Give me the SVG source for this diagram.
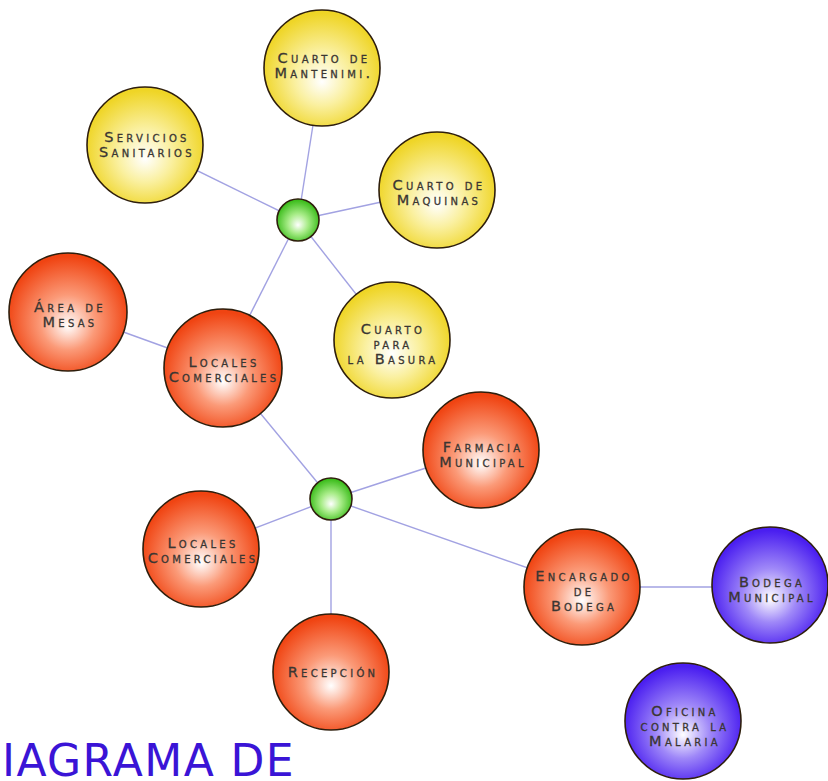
<svg xmlns="http://www.w3.org/2000/svg" width="828" height="781" viewBox="0 0 828 781">
<defs>
<radialGradient id="gy" cx="50%" cy="55%" r="52%" fx="50%" fy="62%">
<stop offset="0" stop-color="#ffffff"/><stop offset="0.45" stop-color="#faf0a0"/><stop offset="1" stop-color="#efd526"/></radialGradient>
<radialGradient id="go" cx="50%" cy="55%" r="52%" fx="50%" fy="62%">
<stop offset="0" stop-color="#ffffff"/><stop offset="0.45" stop-color="#fb9a78"/><stop offset="1" stop-color="#f04412"/></radialGradient>
<radialGradient id="gp" cx="50%" cy="55%" r="52%" fx="50%" fy="62%">
<stop offset="0" stop-color="#ffffff"/><stop offset="0.45" stop-color="#9f88f8"/><stop offset="1" stop-color="#4a1ef0"/></radialGradient>
<radialGradient id="gg" cx="50%" cy="55%" r="52%" fx="50%" fy="62%">
<stop offset="0" stop-color="#ffffff"/><stop offset="0.45" stop-color="#a8ec88"/><stop offset="1" stop-color="#3cbd1c"/></radialGradient>
</defs>
<style>
circle{stroke:#2e1e0c;stroke-width:1.6}
.y{fill:url(#gy)}.o{fill:url(#go)}.p{fill:url(#gp)}.g{fill:url(#gg)}
.t{font-family:"DejaVu Sans",sans-serif;font-size:14.5px;font-variant:small-caps;letter-spacing:3.3px;fill:#3a3632;stroke:#3a3632;stroke-width:0.3px;text-anchor:middle}
.c line{stroke:#a2a2e2;stroke-width:1.4}
.title{font-family:"DejaVu Sans",Verdana,sans-serif;font-size:44px;fill:#3a14d6;letter-spacing:1.4px}
</style>
<g class="c" id="connectors">
<line x1="298" y1="220" x2="322" y2="68"/>
<line x1="298" y1="220" x2="145" y2="145"/>
<line x1="298" y1="220" x2="437" y2="190"/>
<line x1="298" y1="220" x2="392" y2="340"/>
<line x1="298" y1="220" x2="223" y2="368"/>
<line x1="68" y1="312" x2="223" y2="368"/>
<line x1="223" y1="368" x2="331" y2="499"/>
<line x1="331" y1="499" x2="481" y2="450"/>
<line x1="331" y1="499" x2="201" y2="549"/>
<line x1="331" y1="499" x2="331" y2="672"/>
<line x1="331" y1="499" x2="582" y2="587"/>
<line x1="582" y1="587" x2="770" y2="587"/>
</g>
<g id="mantenimi"><circle class="y" cx="322" cy="68" r="58"/>
<text class="t"><tspan x="324" y="63">Cuarto de</tspan><tspan x="324" y="78">Mantenimi.</tspan></text></g>
<g id="servicios"><circle class="y" cx="145" cy="145" r="58"/>
<text class="t"><tspan x="147" y="142">Servicios</tspan><tspan x="147" y="157">Sanitarios</tspan></text></g>
<g id="maquinas"><circle class="y" cx="437" cy="190" r="58"/>
<text class="t"><tspan x="439" y="190">Cuarto de</tspan><tspan x="439" y="205">Maquinas</tspan></text></g>
<g id="hub1"><circle class="g" cx="298" cy="220" r="21"/></g>
<g id="mesas"><circle class="o" cx="68" cy="312" r="59"/>
<text class="t"><tspan x="70" y="312">Área de</tspan><tspan x="70" y="327">Mesas</tspan></text></g>
<g id="locales1"><circle class="o" cx="223" cy="368" r="59"/>
<text class="t"><tspan x="224" y="367">Locales</tspan><tspan x="224" y="382">Comerciales</tspan></text></g>
<g id="basura"><circle class="y" cx="392" cy="340" r="58"/>
<text class="t"><tspan x="393" y="334">Cuarto</tspan><tspan x="393" y="349">para</tspan><tspan x="393" y="364">la Basura</tspan></text></g>
<g id="farmacia"><circle class="o" cx="481" cy="450" r="58"/>
<text class="t"><tspan x="483" y="452">Farmacia</tspan><tspan x="483" y="467">Municipal</tspan></text></g>
<g id="hub2"><circle class="g" cx="331" cy="499" r="21"/></g>
<g id="locales2"><circle class="o" cx="201" cy="549" r="58"/>
<text class="t"><tspan x="203" y="548">Locales</tspan><tspan x="203" y="563">Comerciales</tspan></text></g>
<g id="encargado"><circle class="o" cx="582" cy="587" r="58"/>
<text class="t"><tspan x="584" y="581">Encargado</tspan><tspan x="584" y="596">de</tspan><tspan x="584" y="611">Bodega</tspan></text></g>
<g id="bodega"><circle class="p" cx="770" cy="585" r="58"/>
<text class="t"><tspan x="772" y="587">Bodega</tspan><tspan x="772" y="602">Municipal</tspan></text></g>
<g id="recepcion"><circle class="o" cx="331" cy="672" r="58"/>
<text class="t"><tspan x="333" y="677">Recepción</tspan></text></g>
<g id="malaria"><circle class="p" cx="683" cy="721" r="58"/>
<text class="t"><tspan x="685" y="716">Oficina</tspan><tspan x="685" y="731">contra la</tspan><tspan x="685" y="746">Malaria</tspan></text></g>
<text class="title" x="2" y="776">IAGRAMA DE</text>
</svg>
